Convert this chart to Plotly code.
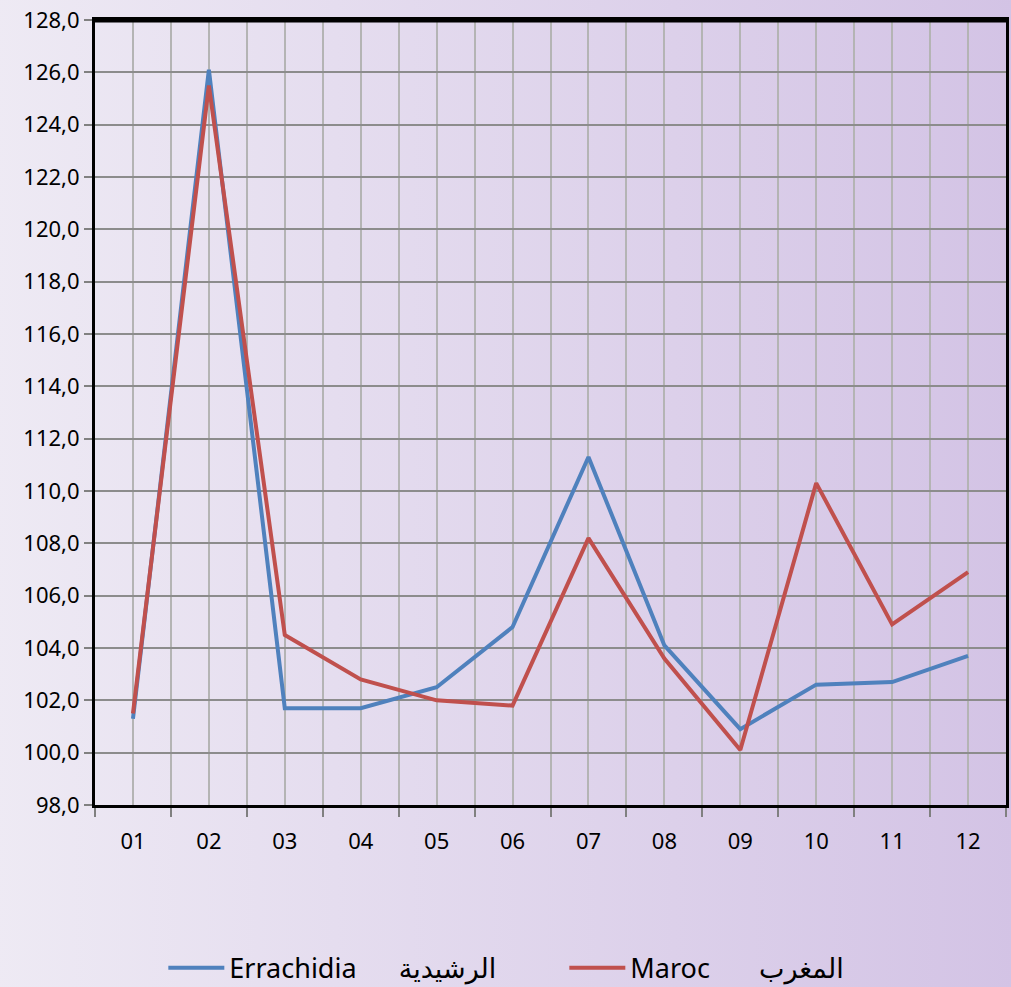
import base64
import plotly.graph_objects as go

months = ["01", "02", "03", "04", "05", "06", "07", "08", "09", "10", "11", "12"]
errachidia = [101.3, 126.1, 101.7, 101.7, 102.5, 104.8, 111.3, 104.1, 100.9, 102.6, 102.7, 103.7]
maroc = [101.5, 125.5, 104.5, 102.8, 102.0, 101.8, 108.2, 103.6, 100.1, 110.3, 104.9, 106.9]
y_ticks = [98 + 2 * i for i in range(16)]

pos = list(range(1, len(months) + 1))
bounds = [p - 0.5 for p in pos] + [len(months) + 0.5]

# horizontal lavender gradient for the page background
svg = ('<svg xmlns="http://www.w3.org/2000/svg" width="100" height="100" preserveAspectRatio="none">'
       '<defs><linearGradient id="g" x1="0" y1="0" x2="1" y2="0">'
       '<stop offset="0" stop-color="#eeeaf4"/><stop offset="1" stop-color="#d3c3e5"/>'
       '</linearGradient></defs><rect width="100" height="100" fill="url(#g)"/></svg>')
bg = "data:image/svg+xml;base64," + base64.b64encode(svg.encode()).decode()

sp = "\u00a0"
fig = go.Figure()
fig.add_trace(go.Scatter(x=pos, y=errachidia, mode="lines", name="Errachidia" + sp * 6 + "الرشيدية",
                         line=dict(color="#4f81bd", width=4)))
fig.add_trace(go.Scatter(x=pos, y=maroc, mode="lines", name="Maroc" + sp * 7 + "المغرب",
                         line=dict(color="#c0504d", width=4)))

fig.update_xaxes(range=[0.5, len(months) + 0.5], tickvals=pos, ticktext=months, ticks="", showgrid=True,
                 gridcolor="#b4b4b4", gridwidth=2, zeroline=False, showline=True, linecolor="black", linewidth=3,
                 mirror=True, tickfont=dict(size=22, color="black"), ticklabelstandoff=15,
                 minor=dict(tickvals=bounds, ticks="outside", ticklen=9, tickcolor="#808080", tickwidth=2,
                            showgrid=True, gridcolor="#b4b4b4", gridwidth=2))
fig.update_yaxes(range=[98, 128], tickvals=y_ticks, tickformat=".1f", ticks="outside", ticklen=8,
                 tickcolor="#808080", tickwidth=2, showgrid=True, gridcolor="#8c8c8c", gridwidth=2,
                 zeroline=False, showline=True, linecolor="black", linewidth=3, mirror=True,
                 tickfont=dict(size=22, color="black"))

fig.add_shape(type="line", xref="x domain", yref="y domain", x0=0, x1=1, y0=1, y1=1,
              line=dict(color="black", width=5))

fig.update_layout(width=1011, height=987, separators=", ", plot_bgcolor="rgba(0,0,0,0)",
                  paper_bgcolor="#e6e0ee", margin=dict(l=95, r=2, t=20, b=182),
                  font=dict(family="Noto Sans, DejaVu Sans", color="black"),
                  images=[dict(source=bg, xref="paper", yref="paper", x=-0.11, y=1.03, sizex=1.12, sizey=1.3,
                               xanchor="left", yanchor="top", sizing="stretch", layer="below")],
                  showlegend=True,
                  legend=dict(orientation="h", x=0.075, y=0.019, yref="container", xanchor="left",
                              yanchor="middle", font=dict(size=27, color="black"),
                              bgcolor="rgba(0,0,0,0)", entrywidth=330, itemwidth=56))

fig.write_html("out.html", config={"displayModeBar": False},
               post_script="document.body.style.margin='0';")
